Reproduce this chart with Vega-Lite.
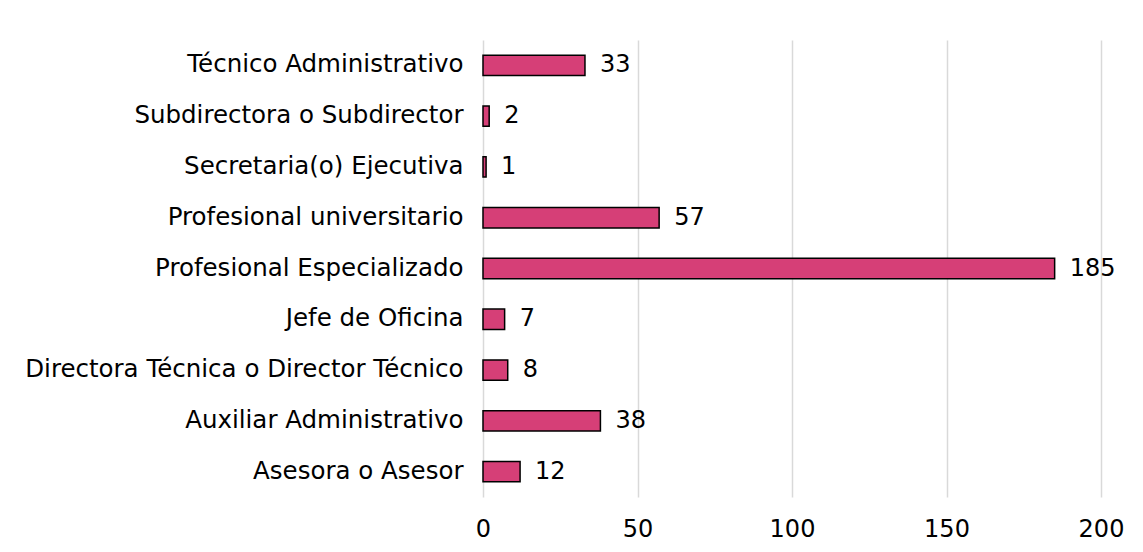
{
  "$schema": "https://vega.github.io/schema/vega-lite/v6.json",
  "autosize": {"type": "none"},
  "width": 618,
  "height": 457,
  "padding": {"left": 483, "top": 40, "right": 42, "bottom": 55},
  "background": "white",
  "config": {"view": {"stroke": null}, "font": "DejaVu Sans"},
  "data": {"values": [
    {"cargo": "Técnico Administrativo", "n": 33},
    {"cargo": "Subdirectora o Subdirector\u2002", "n": 2},
    {"cargo": "Secretaria(o) Ejecutiva", "n": 1},
    {"cargo": "Profesional universitario", "n": 57},
    {"cargo": "Profesional Especializado", "n": 185},
    {"cargo": "Jefe de Oficina", "n": 7},
    {"cargo": "Directora Técnica o Director Técnico", "n": 8},
    {"cargo": "Auxiliar Administrativo", "n": 38},
    {"cargo": "Asesora o Asesor", "n": 12}
  ]},
  "encoding": {
    "y": {"field": "cargo", "type": "nominal", "sort": null,
      "scale": {"paddingInner": 0.6, "paddingOuter": 0.3},
      "axis": {"title": null, "domain": false, "ticks": false, "labelPadding": 20,
        "labelFontSize": 24.5, "labelColor": "#000000", "labelFont": "DejaVu Sans", "labelLimit": 600}},
    "x": {"field": "n", "type": "quantitative",
      "scale": {"domain": [0, 200], "nice": false},
      "axis": {"title": null, "values": [0, 50, 100, 150, 200], "domain": false, "ticks": false,
        "labelPadding": 20, "labelFontSize": 24, "labelColor": "#000000", "labelFont": "DejaVu Sans",
        "gridColor": "#d9d9d9", "gridWidth": 1.5, "labelFlush": false}}
  },
  "layer": [
    {"mark": {"type": "bar", "color": "#d63f77", "stroke": "#000000", "strokeWidth": 1.5}},
    {"mark": {"type": "text", "align": "left", "dx": 15, "fontSize": 24, "color": "#000000", "font": "DejaVu Sans", "baseline": "middle"},
      "encoding": {"text": {"field": "n"}}}
  ]
}
